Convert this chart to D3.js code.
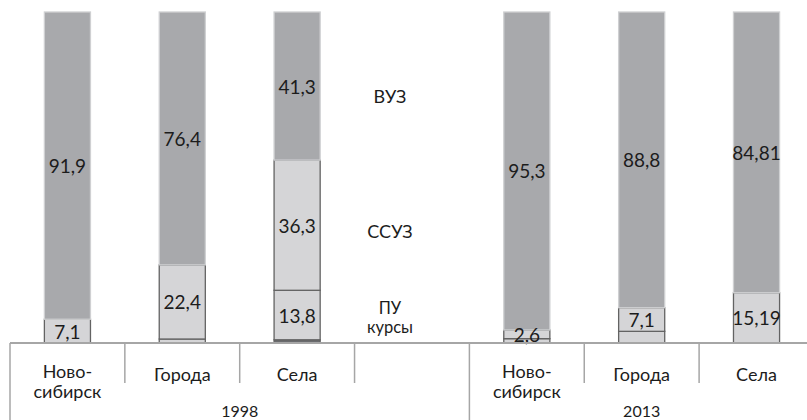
<!DOCTYPE html>
<html><head><meta charset="utf-8">
<script src="https://cdnjs.cloudflare.com/ajax/libs/d3/7.8.5/d3.min.js"></script>
<style>body{margin:0;background:#fff}svg{display:block}</style>
</head><body><svg id="c" width="807" height="420"></svg>
<script>
// ---- data ----
const categories = ["Ново-\nсибирск", "Города", "Села", "", "Ново-\nсибирск", "Города", "Села"];
const years = ["1998", "2013"];
const yearSpans = [[0, 3], [4, 6]];           // category index ranges per year
const seriesNames = ["курсы", "ПУ", "ССУЗ", "ВУЗ"]; // bottom to top
const vuz   = [91.9, 76.4, 41.3, 0, 95.3, 88.8, 84.81];
const ssuz  = [7.1, 22.4, 36.3, 0, 2.6, 7.1, 15.19];
const pu    = [0, 1.2, 13.8, 0, 1.3, 3.5, 0];
const kursy = [0, 0, 0.9, 0, 0, 0, 0];
const legendCategory = 3;   // empty slot that holds the series names
const legendRefCategory = 2;

// ---- build table ----
const rows = categories.map((c, i) => ({idx: i, "курсы": kursy[i], "ПУ": pu[i], "ССУЗ": ssuz[i], "ВУЗ": vuz[i]}));
const stacked = d3.stack().keys(seriesNames).offset(d3.stackOffsetExpand)(rows);

const svg = d3.select("#c");
const step = 114.85;
const x = d3.scaleBand().domain(d3.range(categories.length))
  .range([10, 10 + step * categories.length]).paddingInner(0.59).paddingOuter(0.295);
const y = d3.scaleLinear().domain([0, 1]).range([343, 12]);

const fills = {"ВУЗ": "#a8a9ac", "ССУЗ": "#d5d5d7", "ПУ": "#d5d5d7", "курсы": "#6a6b6e"};
const strokes = {"ВУЗ": "#cfd0d2", "ССУЗ": "#636363", "ПУ": "#636363", "курсы": "#636363"};
const fontFam = "Lato, 'Open Sans', sans-serif";
const txt = "#1c1c1c";

// bars
const g = svg.append("g");
stacked.forEach(s => {
  g.selectAll(null).data(s.filter(d => !isNaN(d[1]) && d[1] - d[0] > 0)).enter().append("rect")
    .attr("x", d => x(d.data.idx) + 0.5)
    .attr("width", x.bandwidth() - 1)
    .attr("y", d => y(d[1]))
    .attr("height", d => y(d[0]) - y(d[1]))
    .attr("fill", fills[s.key])
    .attr("stroke", strokes[s.key])
    .attr("stroke-width", 1.3);
});

// value labels
function fmt(v) { return String(v).replace(".", ","); }
const labelSeries = ["ПУ", "ССУЗ", "ВУЗ"];
stacked.filter(s => labelSeries.includes(s.key)).forEach(s => {
  g.selectAll(null).data(s.filter(d => d.data[s.key] >= 5 || (s.key === "ССУЗ" && d.data[s.key] > 0))).enter().append("text")
    .attr("x", d => x(d.data.idx) + x.bandwidth() / 2)
    .attr("y", d => y((d[0] + d[1]) / 2))
    .attr("text-anchor", "middle").attr("dominant-baseline", "central")
    .attr("font-family", fontFam).attr("font-size", 19).attr("fill", txt)
    .text(d => fmt(d.data[s.key]));
});

// series names in empty slot
const refRow = stacked.map(s => s[legendRefCategory]);
const lx = x(legendCategory) + x.bandwidth() / 2 - 22;
seriesNames.forEach((name, k) => {
  const d = refRow[k];
  let ly = y((d[0] + d[1]) / 2);
  if (name === "курсы") ly = y((refRow[1][0] + refRow[1][1]) / 2) + 12;
  if (name === "ПУ") ly -= 7;
  if (name === "ВУЗ") ly += 10;
  if (name === "ССУЗ") ly += 6;
  svg.append("text").attr("x", lx).attr("y", ly)
    .attr("text-anchor", "middle").attr("dominant-baseline", "central")
    .attr("font-family", fontFam).attr("font-size", (name === "курсы" || name === "ПУ") ? 16.5 : 18).attr("fill", txt)
    .text(name);
});

// axis
const axisColor = "#a6a6a6";
svg.append("line").attr("x1", 10).attr("x2", 807).attr("y1", 343).attr("y2", 343)
  .attr("stroke", axisColor).attr("stroke-width", 2);
const boundaries = d3.range(categories.length + 1).map(i => x.range()[0] + i * x.step());
const groupEdges = new Set([0, yearSpans[0][1] + 1, categories.length]);
boundaries.forEach((bx, i) => {
  svg.append("line").attr("x1", bx).attr("x2", bx).attr("y1", 343)
    .attr("y2", groupEdges.has(i) ? 420 : 383)
    .attr("stroke", axisColor).attr("stroke-width", 1.5);
});

// category labels
categories.forEach((c, i) => {
  const lines = c.split("\n");
  const cx = x(i) + x.bandwidth() / 2;
  lines.forEach((ln, j) => {
    svg.append("text").attr("x", cx)
      .attr("y", lines.length === 1 ? 374 : 371 + j * 20)
      .attr("text-anchor", "middle").attr("dominant-baseline", "central")
      .attr("font-family", fontFam).attr("font-size", 18).attr("fill", txt)
      .text(ln);
  });
});

// year labels
years.forEach((yr, k) => {
  const [a, b] = yearSpans[k];
  const cx = (boundaries[a] + boundaries[b + 1]) / 2;
  svg.append("text").attr("x", cx).attr("y", 410)
    .attr("text-anchor", "middle").attr("dominant-baseline", "central")
    .attr("font-family", fontFam).attr("font-size", 16).attr("fill", txt)
    .text(yr);
});
</script></body></html>
